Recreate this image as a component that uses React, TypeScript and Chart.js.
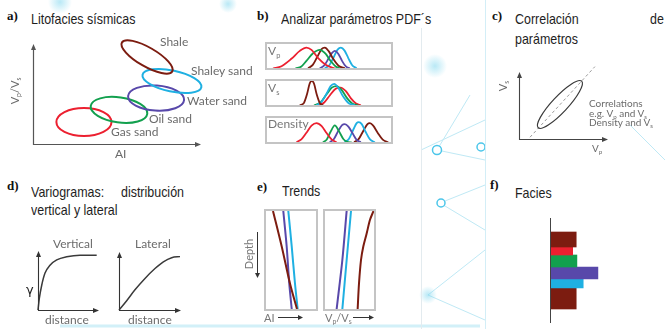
import React, { useEffect, useRef } from 'react';
import { Chart, registerables } from 'chart.js';
Chart.register(...registerables);

// ---------- colours ----------
const BROWN = '#7c1c10';
const CYAN = '#1fb0e2';
const PURPLE = '#5848aa';
const GREEN = '#12a04e';
const RED = '#ec2030';

// ---------- a) seismic lithofacies (AI vs Vp/Vs, arbitrary units) ----------
const faciesNames = ['Gas sand', 'Oil sand', 'Water sand', 'Shaley sand', 'Shale'];
const faciesColors = [RED, GREEN, PURPLE, CYAN, BROWN];
const faciesAI = [3.05, 5.15, 7.37, 8.32, 6.83];
const faciesVpVs = [1.32, 2.04, 2.75, 3.77, 5.21];
const faciesSpreadAI = [1.65, 1.71, 1.68, 1.8, 1.74];
const faciesSpreadVpVs = [0.84, 0.75, 0.75, 0.63, 0.57];
const faciesTilt = [0, -8, -4, -12, -30];

// ---------- b) PDFs [value, density] ----------
const vpGas = [[0.57, 0], [1.24, 0.09], [2.02, 0.38], [2.68, 0.69], [3.2, 0.82], [3.6, 0.73], [4.12, 0.41], [4.78, 0.13], [5.43, 0]];
const vpOil = [[2.34, 0.01], [2.8, 0.08], [3.2, 0.3], [3.72, 0.6], [4.25, 0.73], [4.7, 0.58], [5.1, 0.3], [5.5, 0.08], [5.83, 0.01]];
const vpShale = [[3.33, 0.01], [3.7, 0.14], [4.05, 0.45], [4.39, 0.76], [4.65, 0.82], [4.95, 0.68], [5.3, 0.38], [5.75, 0.1], [6.22, 0.01]];
const vpWater = [[4.25, 0.01], [4.6, 0.12], [4.95, 0.4], [5.2, 0.6], [5.43, 0.69], [5.7, 0.58], [6.0, 0.3], [6.3, 0.08], [6.61, 0.01]];
const vpShaley = [[4.65, 0.01], [5.0, 0.13], [5.35, 0.45], [5.65, 0.74], [5.91, 0.82], [6.2, 0.7], [6.5, 0.4], [6.8, 0.13], [7.14, 0.01]];

const vsShale = [[2.68, 0.01], [3.0, 0.1], [3.25, 0.45], [3.45, 0.85], [3.62, 0.97], [3.8, 0.85], [4.0, 0.45], [4.25, 0.1], [4.51, 0.01]];
const vsShaley = [[3.99, 0.01], [4.4, 0.15], [4.8, 0.48], [5.1, 0.76], [5.38, 0.85], [5.7, 0.7], [6.05, 0.38], [6.5, 0.1], [7.0, 0.01]];
const vsOil = [[3.8, 0.01], [4.3, 0.12], [4.8, 0.45], [5.2, 0.7], [5.57, 0.76], [5.95, 0.62], [6.35, 0.32], [6.8, 0.08], [7.27, 0.01]];
const vsGas = [[4.12, 0.01], [4.6, 0.12], [5.05, 0.4], [5.5, 0.66], [5.88, 0.7], [6.3, 0.56], [6.7, 0.28], [7.1, 0.08], [7.48, 0.01]];

const rhoGas = [[2.42, 0.02], [2.8, 0.12], [3.2, 0.38], [3.6, 0.66], [3.99, 0.76], [4.4, 0.64], [4.8, 0.36], [5.2, 0.11], [5.57, 0.01]];
const rhoOil = [[4.5, 0.01], [4.8, 0.12], [5.1, 0.42], [5.43, 0.67], [5.75, 0.45], [6.1, 0.14], [6.4, 0.03], [6.75, 0]];
const rhoWater = [[5.04, 0.01], [5.35, 0.13], [5.7, 0.45], [6.0, 0.68], [6.22, 0.72], [6.5, 0.62], [6.85, 0.34], [7.15, 0.1], [7.48, 0.01]];
const rhoShaley = [[6.2, 0.01], [6.55, 0.15], [6.9, 0.52], [7.15, 0.76], [7.32, 0.8], [7.55, 0.72], [7.85, 0.42], [8.2, 0.12], [8.58, 0.01]];
const rhoShale = [[6.95, 0.01], [7.3, 0.13], [7.7, 0.48], [8.0, 0.72], [8.19, 0.76], [8.45, 0.66], [8.8, 0.38], [9.2, 0.11], [9.63, 0.01]];

// ---------- c) correlation Vp–Vs ----------
const corrCentreVp = 1.86;
const corrCentreVs = 1.57;
const corrSpreadMajor = 1.45;
const corrSpreadMinor = 0.36;
const corrTilt = 47;
const corrTrendVp = [0.5, 3.45];
const corrTrendVs = [0.08, 3.29];

// ---------- d) variograms ----------
const vertDistance = [0, 0.22, 0.62, 1.17, 2.0, 3.12, 4.78, 7.0, 9.78];
const vertGamma = [0, 0.22, 0.47, 0.7, 0.85, 0.95, 1.01, 1.04, 1.04];
const latDistance = [0, 1.26, 2.62, 4.26, 5.9, 7.27, 8.64, 10];
const latGamma = [0, 0.18, 0.39, 0.61, 0.8, 0.93, 1.01, 1.03];

// ---------- e) trends with depth ----------
const aiDepth = [0, 36, 74, 100];
const aiShale = [1.57, 3.27, 4.9, 6.27];
const aiWater = [3.59, 4.25, 4.76, 5.24];
const aiShaley = [4.57, 5.24, 5.88, 6.41];
const vpvsDepth = [0, 50, 100];
const vpvsWater = [4.53, 3.67, 2.53];
const vpvsShaley = [5.4, 4.53, 3.67];
const vpvsShaleDepth = [0, 9, 23, 36, 50, 74, 100];
const vpvsShale = [9.9, 9.2, 8.53, 7.87, 7.4, 7.0, 6.73];

// ---------- f) facies column ----------
const layerTop = [2.8, 5.8, 7.4, 9.8, 12.2, 14.0];
const layerBase = [5.8, 7.4, 9.8, 12.2, 14.0, 18.2];
const layerValue = [3.6, 3.1, 3.7, 6.7, 4.6, 3.6];
const layerColors = [BROWN, RED, GREEN, PURPLE, CYAN, BROWN];

// ---------- fonts ----------
const TITLE_FONT = '"Liberation Sans", Arial, sans-serif';
const LABEL_FONT = 'Lato, "Open Sans", sans-serif';
const TAG_FONT = '"Liberation Serif", "DejaVu Serif", serif';
const GREY = '#6b6b6b';

// ---------- helpers ----------
const base = (xMin: number, xMax: number, yMin: number, yMax: number, padding: any, more: any = {}) => ({
  responsive: false,
  animation: false,
  events: [],
  devicePixelRatio: 1,
  layout: { padding },
  plugins: { legend: { display: false }, tooltip: { enabled: false } },
  elements: { point: { radius: 0 } },
  scales: {
    x: { type: 'linear', display: false, min: xMin, max: xMax, offset: false },
    y: { type: 'linear', display: false, min: yMin, max: yMax, offset: false, reverse: !!more.reverseY },
  },
  ...(more.indexAxis ? { indexAxis: more.indexAxis } : {}),
});

const curve = (pts: number[][], color: string, width = 1.8, monotone = true) => ({
  data: pts.map(([x, y]) => ({ x, y })),
  borderColor: color,
  borderWidth: width,
  pointRadius: 0,
  fill: false,
  tension: 0.4,
  cubicInterpolationMode: monotone ? 'monotone' : 'default',
  clip: false,
});

const zip = (xs: number[], ys: number[]) => xs.map((x, i) => [x, ys[i]]);

const arrowAxes = (color: string, lw = 1.2) => ({
  id: 'arrowAxes',
  afterDatasetsDraw(chart: any) {
    const { ctx, chartArea } = chart;
    const { top, right } = chartArea;
    const l = Math.round(chartArea.left) + 0.5;
    const b = Math.round(chartArea.bottom) + 0.5;
    ctx.save();
    ctx.strokeStyle = color;
    ctx.fillStyle = color;
    ctx.lineWidth = lw;
    ctx.beginPath();
    ctx.moveTo(l, top + 3);
    ctx.lineTo(l, b);
    ctx.lineTo(right - 3, b);
    ctx.stroke();
    ctx.beginPath();
    ctx.moveTo(l, top - 1);
    ctx.lineTo(l - 2.5, top + 5);
    ctx.lineTo(l + 2.5, top + 5);
    ctx.closePath();
    ctx.fill();
    ctx.beginPath();
    ctx.moveTo(right + 1, b);
    ctx.lineTo(right - 5, b - 2.5);
    ctx.lineTo(right - 5, b + 2.5);
    ctx.closePath();
    ctx.fill();
    ctx.restore();
  },
});

const ellipses = (cx: number[], cy: number[], rx: number[], ry: number[], tilt: number[], colors: string[], lw: number) => ({
  id: 'ellipses',
  afterDatasetsDraw(chart: any) {
    const { ctx, scales } = chart;
    const { x, y } = scales;
    ctx.save();
    for (let i = 0; i < cx.length; i++) {
      const px = x.getPixelForValue(cx[i]);
      const py = y.getPixelForValue(cy[i]);
      const rpx = Math.abs(x.getPixelForValue(cx[i] + rx[i]) - px);
      const rpy = Math.abs(y.getPixelForValue(cy[i] + ry[i]) - py);
      ctx.beginPath();
      ctx.ellipse(px, py, rpx, rpy, (-tilt[i] * Math.PI) / 180, 0, Math.PI * 2);
      ctx.strokeStyle = colors[i];
      ctx.lineWidth = lw;
      ctx.stroke();
    }
    ctx.restore();
  },
});

const baseLine = (color: string) => ({
  id: 'baseLine',
  afterDatasetsDraw(chart: any) {
    const { ctx, chartArea, scales } = chart;
    const px = Math.round(scales.x.getPixelForValue(0)) - 0.5;
    ctx.save();
    ctx.strokeStyle = color;
    ctx.lineWidth = 1;
    ctx.beginPath();
    ctx.moveTo(px, chartArea.top);
    ctx.lineTo(px, chartArea.bottom);
    ctx.stroke();
    ctx.restore();
  },
});

function ChartCanvas({ left, top, width, height, make }: { left: number; top: number; width: number; height: number; make: () => any }) {
  const ref = useRef<HTMLCanvasElement>(null);
  useEffect(() => {
    const chart = new Chart(ref.current as HTMLCanvasElement, make());
    return () => chart.destroy();
  }, []);
  return <canvas ref={ref} width={width} height={height} style={{ position: 'absolute', left, top, width, height, display: 'block' }} />;
}

function Box({ left, top, width, height, children }: any) {
  return (
    <div style={{ position: 'absolute', left, top, width, height, boxSizing: 'border-box', border: '2px solid #c4c4c4' }}>
      {children}
    </div>
  );
}

function T({ x, y, size = 12, font = LABEL_FONT, color = GREY, weight = 400, rotate = false, squeeze = 1, children }: any) {
  const style: any = {
    position: 'absolute',
    left: x,
    top: y,
    fontSize: size,
    fontFamily: font,
    color,
    fontWeight: weight,
    lineHeight: 1,
    whiteSpace: 'nowrap',
  };
  if (rotate) style.transform = 'translate(-50%, -50%) rotate(-90deg)';
  else if (squeeze !== 1) {
    style.transform = `scaleX(${squeeze})`;
    style.transformOrigin = 'left top';
  }
  return <div style={style}>{children}</div>;
}

const Title = ({ x, y, children }: any) => (
  <T x={x} y={y} size={15} font={TITLE_FONT} color="#1e1e1e" squeeze={0.83}>{children}</T>
);
const Tag = ({ x, y, children }: any) => (
  <T x={x} y={y} size={13} font={TAG_FONT} color="#111" weight={700}>{children}</T>
);

const Sub = ({ children }: any) => (
  <span style={{ fontSize: '62%', verticalAlign: '-0.35em', lineHeight: 0 }}>{children}</span>
);

// ---------- chart builders ----------
const A_AREA_W = 167;
const A_AREA_H = 99;
const makeA = () => ({
  type: 'line',
  data: { datasets: [] },
  options: base(0, 10, 0, (10 * A_AREA_H) / A_AREA_W, { left: 13, top: 15, right: 10, bottom: 6 }),
  plugins: [
    arrowAxes('#555555', 1.2),
    ellipses(faciesAI, faciesVpVs, faciesSpreadAI, faciesSpreadVpVs, faciesTilt, faciesColors, 2),
  ],
});

const makePdf = (curves: number[][][], colors: string[]) => () => ({
  type: 'line',
  data: { datasets: curves.map((c, i) => curve(c, colors[i], 1.8)) },
  options: base(0.1, 9.85, 0.02, 0.96, 0),
});

const makeC = () => ({
  type: 'line',
  data: {
    datasets: [
      {
        data: zip(corrTrendVp, corrTrendVs).map(([x, y]) => ({ x, y })),
        borderColor: '#9a9a9a',
        borderWidth: 1,
        borderDash: [3, 2.5],
        pointRadius: 0,
        clip: false,
      },
    ],
  },
  options: base(0, 4, 0, 3, { left: 7, top: 11, right: 5, bottom: 5 }),
  plugins: [
    arrowAxes('#444444', 1.1),
    ellipses([corrCentreVp], [corrCentreVs], [corrSpreadMajor], [corrSpreadMinor], [corrTilt], ['#3a3a3a'], 1.2),
  ],
});

const makeVario = (dist: number[], gamma: number[]) => () => ({
  type: 'line',
  data: { datasets: [curve(zip(dist, gamma), '#3a3a3a', 1.5)] },
  options: base(0, 10, 0, 1.1, { left: 5, top: 6, right: 5, bottom: 4 }),
  plugins: [arrowAxes('#333333', 1.1)],
});

const trendCurve = (xs: number[], depth: number[], color: string) => ({
  ...curve(zip(xs, depth), color, 2, false),
  tension: 0.3,
});

const makeTrendAI = () => ({
  type: 'line',
  data: {
    datasets: [
      trendCurve(aiShale, aiDepth, BROWN),
      trendCurve(aiWater, aiDepth, PURPLE),
      trendCurve(aiShaley, aiDepth, CYAN),
    ],
  },
  options: base(0.2, 10, 0, 100, 0, { reverseY: true, indexAxis: 'y' }),
});

const makeTrendVpVs = () => ({
  type: 'line',
  data: {
    datasets: [
      trendCurve(vpvsWater, vpvsDepth, PURPLE),
      trendCurve(vpvsShaley, vpvsDepth, CYAN),
      trendCurve(vpvsShale, vpvsShaleDepth, BROWN),
    ],
  },
  options: base(0.2, 10, 0, 100, 0, { reverseY: true, indexAxis: 'y' }),
});

const F_AREA_H = 105;
const F_DEPTH_MAX = 21;
const makeFacies = () => ({
  type: 'bar',
  data: {
    datasets: layerValue.map((v, i) => ({
      data: [{ x: v, y: (layerTop[i] + layerBase[i]) / 2 }],
      backgroundColor: layerColors[i],
      borderWidth: 0,
      grouped: false,
      barThickness: ((layerBase[i] - layerTop[i]) * F_AREA_H) / F_DEPTH_MAX,
    })),
  },
  options: base(0, 10, 0, F_DEPTH_MAX, { left: 5, top: 4, right: 5, bottom: 4 }, { reverseY: true, indexAxis: 'y' }),
  plugins: [baseLine('#444444')],
});

function Decor() {
  // faint cyan "network" backdrop
  return (
    <svg width={665} height={329} style={{ position: 'absolute', left: 0, top: 0 }}>
      <defs>
        <radialGradient id="glow">
          <stop offset="0%" stopColor="#7fd6ee" stopOpacity={0.55} />
          <stop offset="100%" stopColor="#7fd6ee" stopOpacity={0} />
        </radialGradient>
      </defs>
      <g stroke="#bfe9f5" strokeWidth={1} fill="none">
        <line x1={421} y1={150} x2={485} y2={120} />
        <line x1={437} y1={150} x2={485} y2={160} />
        <line x1={437} y1={150} x2={470} y2={95} />
        <line x1={440} y1={203} x2={485} y2={230} />
        <line x1={440} y1={203} x2={485} y2={185} />
        <line x1={428} y1={295} x2={485} y2={250} />
        <line x1={428} y1={295} x2={485} y2={320} />
        <line x1={630} y1={125} x2={665} y2={160} />
      </g>
      <circle cx={435} cy={66} r={12} fill="url(#glow)" />
      <circle cx={428} cy={295} r={9} fill="url(#glow)" />
      <circle cx={60} cy={2} r={12} fill="url(#glow)" />
      <circle cx={228} cy={4} r={9} fill="url(#glow)" />
      <g stroke="#4cc6ea" strokeWidth={1.5} fill="#ffffff">
        <circle cx={437} cy={150} r={4.5} />
        <circle cx={441} cy={203} r={4} />
        <circle cx={481} cy={147} r={4} />
      </g>
      <line x1={60} y1={326} x2={480} y2={326} stroke="#d2f0f8" strokeWidth={3} />
      <line x1={421.5} y1={28} x2={421.5} y2={329} stroke="#e3ebef" strokeWidth={1} />
      <line x1={485.5} y1={0} x2={485.5} y2={329} stroke="#d3eef7" strokeWidth={1} />
    </svg>
  );
}

export default function App() {
  return (
    <div style={{ position: 'absolute', left: 0, top: 0, width: 665, height: 329, background: '#ffffff', overflow: 'hidden' }}>
      <Decor />

      {/* panel tags */}
      <Tag x={7} y={9}>a)</Tag>
      <Tag x={257} y={9}>b)</Tag>
      <Tag x={492} y={9}>c)</Tag>
      <Tag x={7} y={179}>d)</Tag>
      <Tag x={257} y={180}>e)</Tag>
      <Tag x={490} y={178}>f)</Tag>

      {/* titles */}
      <Title x={31} y={11}>Litofacies sísmicas</Title>
      <Title x={281} y={11}>Analizar parámetros PDF´s</Title>
      <Title x={515} y={11}>Correlación</Title>
      <Title x={650} y={11}>de</Title>
      <Title x={515} y={31}>parámetros</Title>
      <Title x={31} y={184}>Variogramas:</Title>
      <Title x={121} y={184}>distribución</Title>
      <Title x={31} y={202}>vertical y lateral</Title>
      <Title x={282} y={183}>Trends</Title>
      <Title x={515} y={185}>Facies</Title>

      {/* a) */}
      <ChartCanvas left={20} top={30} width={190} height={120} make={makeA} />
      <T x={160} y={35.5}>{faciesNames[4]}</T>
      <T x={191} y={64.5}>{faciesNames[3]}</T>
      <T x={187} y={95}>{faciesNames[2]}</T>
      <T x={149} y={113}>{faciesNames[1]}</T>
      <T x={111} y={126}>{faciesNames[0]}</T>
      <T x={115} y={148}>AI</T>
      <T x={14} y={91} size={11} rotate>V<Sub>p</Sub>/V<Sub>s</Sub></T>

      {/* b) */}
      <Box left={265} top={42} width={128} height={28}>
        <ChartCanvas left={0} top={0} width={124} height={24} make={makePdf([vpGas, vpOil, vpShale, vpWater, vpShaley], [RED, GREEN, BROWN, PURPLE, CYAN])} />
      </Box>
      <Box left={265} top={79} width={128} height={28}>
        <ChartCanvas left={0} top={0} width={124} height={24} make={makePdf([vsShale, vsShaley, vsOil, vsGas], [BROWN, CYAN, GREEN, RED])} />
      </Box>
      <Box left={265} top={116} width={128} height={28}>
        <ChartCanvas left={0} top={0} width={124} height={24} make={makePdf([rhoGas, rhoOil, rhoWater, rhoShaley, rhoShale], [RED, GREEN, PURPLE, CYAN, BROWN])} />
      </Box>
      <T x={268} y={45} color="#777">V<Sub>p</Sub></T>
      <T x={268} y={81.5} color="#777">V<Sub>s</Sub></T>
      <T x={268} y={118} color="#777">Density</T>

      {/* c) */}
      <ChartCanvas left={512} top={62} width={100} height={82} make={makeC} />
      <T x={502} y={86} size={11} rotate>V<Sub>s</Sub></T>
      <T x={592} y={143} size={10}>V<Sub>p</Sub></T>
      <T x={589} y={98} size={10}>Correlations</T>
      <T x={589} y={107.5} size={10}>e.g. V<Sub>p</Sub> and V<Sub>s</Sub></T>
      <T x={589} y={116.5} size={10}>Density and V<Sub>s</Sub></T>

      {/* d) */}
      <ChartCanvas left={33} top={246} width={70} height={68} make={makeVario(vertDistance, vertGamma)} />
      <ChartCanvas left={114} top={247} width={71} height={67} make={makeVario(latDistance, latGamma)} />
      <T x={53} y={238}>Vertical</T>
      <T x={135} y={238}>Lateral</T>
      <T x={26} y={283} size={13} font='"DejaVu Sans", sans-serif' color="#222">γ</T>
      <T x={45} y={314}>distance</T>
      <T x={128} y={314}>distance</T>

      {/* e) */}
      <Box left={264} top={209} width={54} height={102}>
        <ChartCanvas left={0} top={0} width={50} height={98} make={makeTrendAI} />
      </Box>
      <Box left={323} top={209} width={53} height={102}>
        <ChartCanvas left={0} top={0} width={49} height={98} make={makeTrendVpVs} />
      </Box>
      <T x={264} y={312} size={11} color="#777">AI</T>
      <T x={325} y={312} size={11} color="#777">V<Sub>p</Sub>/V<Sub>s</Sub></T>
      <T x={248} y={254} size={11} color="#777" rotate>Depth</T>
      <svg width={665} height={329} style={{ position: 'absolute', left: 0, top: 0, pointerEvents: 'none' }}>
        <g stroke="#333" strokeWidth={1} fill="#333">
          <line x1={278} y1={317.5} x2={299} y2={317.5} />
          <path d="M303,317.5 L298,315 L298,320 Z" stroke="none" />
          <line x1={353} y1={317.5} x2={370} y2={317.5} />
          <path d="M374,317.5 L369,315 L369,320 Z" stroke="none" />
          <line x1={257.5} y1={232} x2={257.5} y2={274} />
          <path d="M257.5,278 L255,273 L260,273 Z" stroke="none" />
        </g>
      </svg>

      {/* f) */}
      <ChartCanvas left={546} top={214} width={80} height={113} make={makeFacies} />
    </div>
  );
}
